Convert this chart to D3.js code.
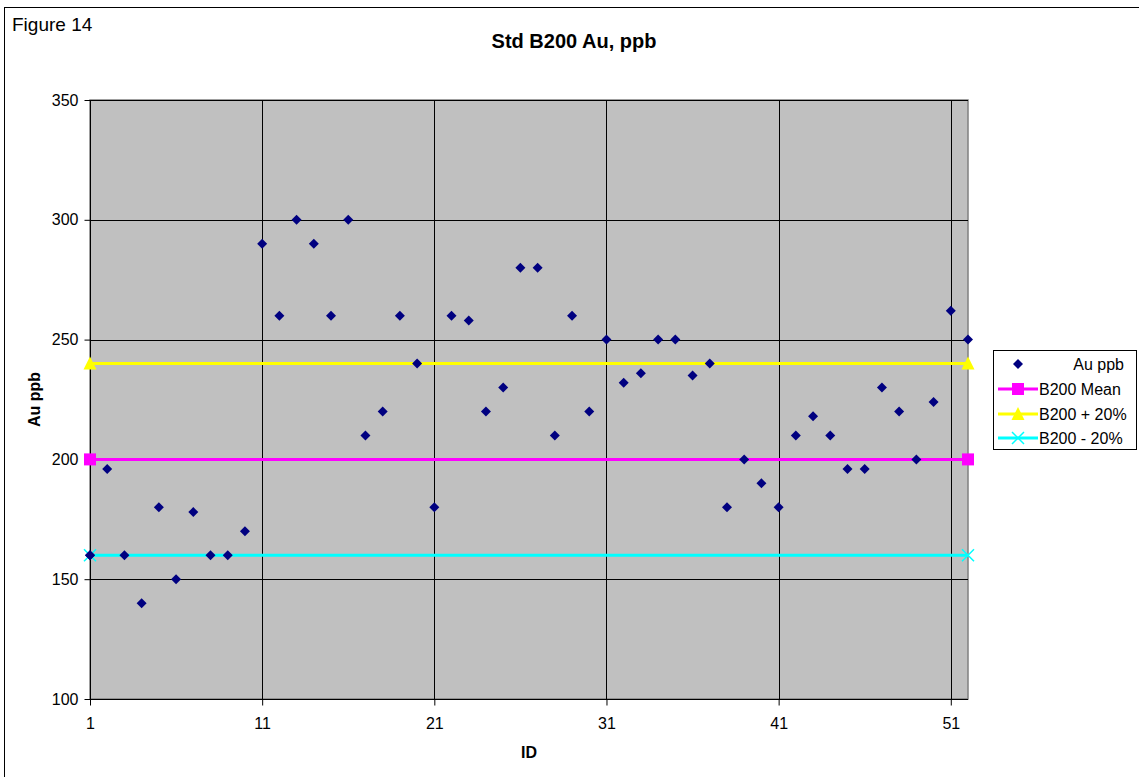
<!DOCTYPE html>
<html><head><meta charset="utf-8">
<script src="https://cdn.jsdelivr.net/npm/d3@7/dist/d3.min.js"></script>
<style>body{margin:0;background:#fff;}svg{display:block;font-family:"Liberation Sans",Arial,sans-serif;}</style>
</head><body>
<svg id="c" width="1139" height="777"></svg>
<script>
const ids = d3.range(1, 53);
const auPpb = [160,196,160,140,180,150,178,160,160,170,
               290,260,300,290,260,300,210,220,260,240,
               180,260,258,220,230,280,280,210,260,220,
               250,232,236,250,250,235,240,180,200,190,
               180,210,218,210,196,196,230,220,200,224,
               262,250];
const meanVal = 200, plusVal = 240, minusVal = 160;
const xTicks = [1,11,21,31,41,51];
const yTicks = [100,150,200,250,300,350];
const legendLabels = ["Au  ppb","B200 Mean","B200 + 20%","B200 - 20%"];

const svg = d3.select("#c");
const L = 90, R = 968, T = 100, B = 699;
const x = d3.scaleLinear().domain([1,52]).range([L,R]);
const y = d3.scaleLinear().domain([100,350]).range([B,T]);

// outer chart border (right/bottom beyond view)
svg.append("rect").attr("x",4.5).attr("y",7.5).attr("width",1140).attr("height",775)
  .attr("fill","#fff").attr("stroke","#000").attr("stroke-width",1);

svg.append("text").attr("x",12).attr("y",31).attr("font-size",19).text("Figure 14");
svg.append("text").attr("x",574).attr("y",48).attr("text-anchor","middle")
  .attr("font-size",20).attr("font-weight","bold").text("Std B200 Au, ppb");

// plot area
svg.append("rect").attr("x",L).attr("y",T).attr("width",R-L).attr("height",B-T)
  .attr("fill","#C0C0C0").attr("stroke","#808080").attr("stroke-width",1.5);

// gridlines
svg.append("g").selectAll("line").data(yTicks).join("line")
  .attr("x1",L).attr("x2",R).attr("y1",d=>Math.round(y(d))+0.5).attr("y2",d=>Math.round(y(d))+0.5)
  .attr("stroke","#000").attr("stroke-width",1);
svg.append("g").selectAll("line").data(xTicks).join("line")
  .attr("x1",d=>Math.round(x(d))+0.5).attr("x2",d=>Math.round(x(d))+0.5).attr("y1",T).attr("y2",B)
  .attr("stroke","#000").attr("stroke-width",1);

// axes
const yAxis = d3.axisLeft(y).tickValues(yTicks).tickSize(6).tickPadding(6);
const gy = svg.append("g").attr("transform",`translate(${L+0.5},0)`).call(yAxis);
const xAxis = d3.axisBottom(x).tickValues(xTicks).tickSize(6).tickPadding(12);
const gx = svg.append("g").attr("transform",`translate(0,${B+0.5})`).call(xAxis);
[gy,gx].forEach(g=>{
  g.select(".domain").attr("stroke","#000");
  g.selectAll(".tick line").attr("stroke","#000");
  g.selectAll(".tick text").attr("font-size",16).attr("fill","#000")
   .attr("font-family","'Liberation Sans',Arial,sans-serif");
});
gx.select(".domain").attr("d",`M${L},0H${R}`);
gy.select(".domain").attr("d",`M0,${B}V${T}`);

svg.append("text").attr("x",529).attr("y",758).attr("text-anchor","middle")
  .attr("font-size",16).attr("font-weight","bold").text("ID");
svg.append("text").attr("transform",`translate(40,${(T+B)/2}) rotate(-90)`)
  .attr("text-anchor","middle").attr("font-size",16).attr("font-weight","bold").text("Au ppb");

// reference lines
const refs = [
  {v:meanVal, c:"#FF00FF", m:"square"},
  {v:plusVal, c:"#FFFF00", m:"triangle"},
  {v:minusVal, c:"#00FFFF", m:"x"}
];
function marker(g, type, cx, cy, color){
  if(type==="square"){
    g.append("rect").attr("x",cx-6).attr("y",cy-6).attr("width",12).attr("height",12).attr("fill",color);
  } else if(type==="triangle"){
    g.append("path").attr("d",`M${cx},${cy-7}L${cx+6.5},${cy+6}L${cx-6.5},${cy+6}Z`).attr("fill",color);
  } else if(type==="x"){
    g.append("path").attr("d",`M${cx-6},${cy-6}L${cx+6},${cy+6}M${cx-6},${cy+6}L${cx+6},${cy-6}`)
      .attr("stroke",color).attr("stroke-width",1.5);
  } else if(type==="diamond"){
    g.append("path").attr("d",d3.symbol(d3.symbolSquare,50)()).attr("transform",`translate(${cx},${cy}) rotate(45)`).attr("fill",color);
  }
}
const lg = svg.append("g");
refs.forEach(r=>{
  lg.append("line").attr("x1",x(1)).attr("x2",x(52)).attr("y1",y(r.v)).attr("y2",y(r.v))
    .attr("stroke",r.c).attr("stroke-width",3);
});

// data points
svg.append("g").selectAll("path").data(ids).join("path")
  .attr("d",d3.symbol(d3.symbolSquare,50)())
  .attr("transform",(d,i)=>`translate(${x(d)},${y(auPpb[i])}) rotate(45)`)
  .attr("fill","#000080");

// endpoint markers on top
refs.forEach(r=>{
  marker(lg, r.m, x(1), y(r.v), r.c);
  marker(lg, r.m, x(52), y(r.v), r.c);
});
// data point 1 drawn over cyan marker
marker(svg, "diamond", x(1), y(auPpb[0]), "#000080");

// legend
const leg = svg.append("g");
leg.append("rect").attr("x",993.5).attr("y",350.5).attr("width",143).attr("height",99)
  .attr("fill","#fff").attr("stroke","#000").attr("stroke-width",1);
const ly = [364,389,414,438];
marker(leg,"diamond",1018,ly[0],"#000080");
leg.append("text").attr("x",1124).attr("y",ly[0]+6).attr("text-anchor","end").attr("font-size",16).text(legendLabels[0]);
refs.forEach((r,i)=>{
  const yy = ly[i+1];
  leg.append("line").attr("x1",998).attr("x2",1038).attr("y1",yy).attr("y2",yy).attr("stroke",r.c).attr("stroke-width",3);
  marker(leg,r.m,1018,yy,r.c);
  leg.append("text").attr("x",1039).attr("y",yy+6).attr("font-size",16).text(legendLabels[i+1]);
});
</script>
</body></html>
